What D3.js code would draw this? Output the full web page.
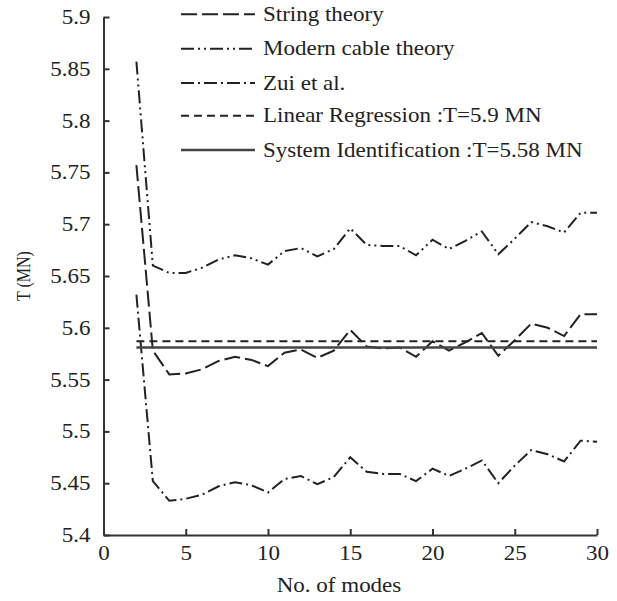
<!DOCTYPE html>
<head>
  <meta charset="utf-8">
  <title>Tension vs number of modes</title>
  <script src="https://d3js.org/d3.v7.min.js"></script>
  <style>
    body { margin: 0; background: #fff; }
    text { font-family: "Liberation Serif", "Times New Roman", serif; fill: #222; }
  </style>
</head>
<body>
<script>

  // data
  let modes = d3.range(2, 31);
  let string_theory = [5.757, 5.578, 5.555, 5.556, 5.560, 5.568, 5.572, 5.569, 5.563, 5.576,
    5.579, 5.571, 5.578, 5.598, 5.582, 5.580, 5.581, 5.572, 5.587, 5.578,
    5.586, 5.595, 5.573, 5.588, 5.604, 5.600, 5.592, 5.613, 5.613];
  let modern_cable = [5.857, 5.660, 5.653, 5.653, 5.658, 5.666, 5.670, 5.667, 5.661, 5.674,
    5.677, 5.669, 5.676, 5.696, 5.680, 5.679, 5.679, 5.670, 5.685, 5.676,
    5.684, 5.693, 5.671, 5.686, 5.702, 5.698, 5.692, 5.711, 5.711];
  let zui = [5.632, 5.452, 5.433, 5.435, 5.439, 5.447, 5.451, 5.448, 5.441, 5.454,
    5.457, 5.449, 5.456, 5.475, 5.461, 5.459, 5.459, 5.452, 5.464, 5.457,
    5.464, 5.472, 5.450, 5.467, 5.482, 5.478, 5.471, 5.491, 5.490];
  let linear_regression = 5.587;
  let system_id = 5.581;
  let x_ticks = [0, 5, 10, 15, 20, 25, 30];
  let y_ticks = [5.4, 5.45, 5.5, 5.55, 5.6, 5.65, 5.7, 5.75, 5.8, 5.85, 5.9];
  let legend_labels = ["String theory", "Modern cable theory", "Zui et al.",
    "Linear Regression :T=5.9 MN", "System Identification :T=5.58 MN"];

  let width = 617;
  let height = 601;
  let margin = {top: 17, right: 20, bottom: 66, left: 103.5};
  let stretch = 1.15; // the original's lettering is a bit wide

  let svg = d3.select("body").append("svg")
    .attr("width", width)
    .attr("height", height);

  let x = d3.scaleLinear().domain([0, 30]).range([margin.left, 597]);
  let y = d3.scaleLinear().domain([5.4, 5.9]).range([535, margin.top]);

  // axes, ticks point inward
  svg.append("g")
    .attr("transform", "translate(0," + y(5.4) + ")")
    .call(d3.axisBottom(x).tickValues(x_ticks).tickFormat(d3.format("d"))
      .tickSizeInner(-6).tickSizeOuter(0).tickPadding(11));

  svg.append("g")
    .attr("transform", "translate(" + x(0) + ",0)")
    .call(d3.axisLeft(y).tickValues(y_ticks).tickFormat(d => String(+d.toFixed(2)))
      .tickSizeInner(-6).tickSizeOuter(0).tickPadding(13 / stretch));

  svg.selectAll(".domain").style("stroke", "#333").style("stroke-width", "2px");
  svg.selectAll(".tick line").style("stroke", "#333").style("stroke-width", "2px");
  svg.selectAll(".tick text")
    .attr("transform", "scale(" + stretch + ",1)")
    .style("font-size", "20px").style("fill", "#222")
    .style("font-family", "Liberation Serif, serif");

  // axis titles
  svg.append("text")
    .text("T (MN)")
    .attr("text-anchor", "middle")
    .attr("transform", "translate(30,276) rotate(-90) scale(1," + stretch + ")")
    .style("font-size", "16px");

  svg.append("text")
    .text("No. of modes")
    .attr("text-anchor", "middle")
    .attr("transform", "translate(339,592) scale(" + stretch + ",1)")
    .style("font-size", "20px");

  // series
  let styles = [
    {dash: "16,5", color: "#222", width: 2},
    {dash: "13,4,2,4,2,4", color: "#222", width: 2},
    {dash: "13,4,2,4", color: "#222", width: 2},
    {dash: "8,5", color: "#222", width: 2},
    {dash: null, color: "#444", width: 2.5}
  ];

  let line = d3.line()
    .x((d, i) => x(modes[i]))
    .y(d => y(d));

  let curves = [string_theory, modern_cable, zui];

  svg.append("g").selectAll("path")
    .data(curves)
    .enter()
    .append("path")
    .attr("d", d => line(d))
    .style("fill", "none")
    .style("stroke", (d, i) => styles[i].color)
    .style("stroke-width", (d, i) => styles[i].width)
    .style("stroke-dasharray", (d, i) => styles[i].dash);

  let flat = [linear_regression, system_id];

  svg.append("g").selectAll("line")
    .data(flat)
    .enter()
    .append("line")
    .attr("x1", x(2))
    .attr("x2", x(30))
    .attr("y1", d => y(d))
    .attr("y2", d => y(d))
    .style("stroke", (d, i) => styles[i + 3].color)
    .style("stroke-width", (d, i) => styles[i + 3].width)
    .style("stroke-dasharray", (d, i) => styles[i + 3].dash);

  // legend
  let legend = svg.append("g").attr("id", "legend");
  let rows = [14.3, 48.7, 83, 115.7, 150];

  legend.selectAll("line")
    .data(legend_labels)
    .enter()
    .append("line")
    .attr("x1", 181)
    .attr("x2", 255)
    .attr("y1", (d, i) => rows[i])
    .attr("y2", (d, i) => rows[i])
    .style("stroke", (d, i) => styles[i].color)
    .style("stroke-width", (d, i) => styles[i].width)
    .style("stroke-dasharray", (d, i) => styles[i].dash);

  legend.selectAll("text")
    .data(legend_labels)
    .enter()
    .append("text")
    .text(d => d)
    .attr("transform", (d, i) => "translate(263," + (rows[i] + 6.5) + ") scale(" + stretch + ",1)")
    .style("font-size", "20px");

</script>
</body>
